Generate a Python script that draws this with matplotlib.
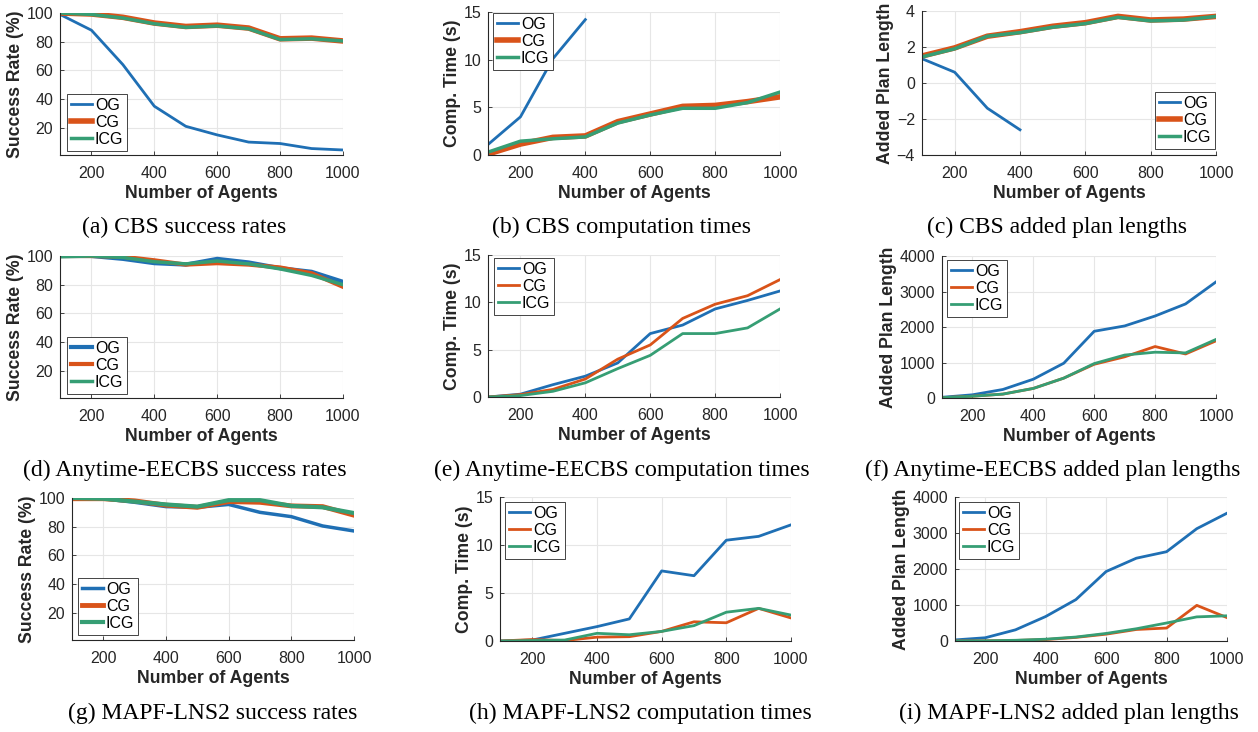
import matplotlib.pyplot as plt
import numpy as np

# number of agents on every x axis
agents = [100, 200, 300, 400, 500, 600, 700, 800, 900, 1000]

# CBS
cbs_sr_og = [99, 88, 64, 35, 21, 15, 10, 9, 5.5, 4.5]
cbs_sr_cg = [100, 99.3, 97, 93, 90.6, 91.5, 89.5, 82, 82.5, 80.5]
cbs_sr_icg = [100, 99, 96.5, 92.5, 90, 91, 89, 81.5, 82, 80.5]
cbs_ct_og = [1.1, 4.0, 10.1, 14.2]
cbs_ct_cg = [0.1, 1.15, 1.85, 2.0, 3.5, 4.3, 5.1, 5.2, 5.6, 6.1]
cbs_ct_icg = [0.3, 1.45, 1.7, 1.9, 3.35, 4.2, 4.9, 4.9, 5.5, 6.6]
cbs_pl_og = [1.35, 0.6, -1.4, -2.6]
cbs_pl_cg = [1.5, 1.95, 2.6, 2.85, 3.15, 3.35, 3.7, 3.5, 3.55, 3.7]
cbs_pl_icg = [1.45, 1.9, 2.6, 2.8, 3.1, 3.3, 3.65, 3.45, 3.5, 3.7]

# Anytime-EECBS
ee_sr_og = [100, 100, 98, 95, 94, 98, 95.5, 91.5, 89, 82]
ee_sr_cg = [100, 100, 99.5, 97, 94, 95, 94, 92, 88, 78.5]
ee_sr_icg = [99.5, 100, 99, 96, 94.5, 96.5, 94.5, 91, 86.5, 80]
ee_ct_og = [0, 0.3, 1.3, 2.2, 3.6, 6.7, 7.6, 9.3, 10.2, 11.2]
ee_ct_cg = [0, 0.25, 0.8, 1.9, 4.0, 5.5, 8.3, 9.8, 10.7, 12.4]
ee_ct_icg = [0, 0.15, 0.6, 1.5, 3.0, 4.4, 6.7, 6.7, 7.3, 9.3]
ee_pl_og = [20, 90, 240, 530, 980, 1880, 2030, 2310, 2650, 3270]
ee_pl_cg = [10, 50, 110, 270, 560, 950, 1160, 1450, 1240, 1610]
ee_pl_icg = [10, 50, 110, 270, 560, 970, 1210, 1290, 1270, 1650]

# MAPF-LNS2
lns_sr_og = [100, 99.5, 97, 94, 93.5, 95.5, 90, 87, 80.5, 77]
lns_sr_cg = [99.5, 99.5, 98, 95, 93.5, 97.5, 97, 94.5, 94, 88]
lns_sr_icg = [100, 99.5, 97.5, 95.5, 94, 98.5, 98.5, 94.5, 93.5, 89.5]
lns_ct_og = [0, 0.1, 0.8, 1.5, 2.3, 7.3, 6.8, 10.5, 10.9, 12.1]
lns_ct_cg = [0, 0.15, 0.05, 0.4, 0.45, 1.0, 2.0, 1.9, 3.4, 2.4]
lns_ct_icg = [0, 0.05, 0.1, 0.8, 0.65, 1.0, 1.6, 3.0, 3.4, 2.7]
lns_pl_og = [30, 90, 310, 680, 1150, 1930, 2300, 2480, 3120, 3550]
lns_pl_cg = [0, 5, 15, 40, 100, 190, 320, 360, 990, 650]
lns_pl_icg = [0, 5, 20, 50, 110, 210, 340, 500, 670, 700]

captions = ['(a) CBS success rates', '(b) CBS computation times', '(c) CBS added plan lengths',
            '(d) Anytime-EECBS success rates', '(e) Anytime-EECBS computation times',
            '(f) Anytime-EECBS added plan lengths',
            '(g) MAPF-LNS2 success rates', '(h) MAPF-LNS2 computation times',
            '(i) MAPF-LNS2 added plan lengths']

BLUE = '#1f6fb4'
ORANGE = '#d95319'
GREEN = '#369e74'
W, H = 1258, 732

fig = plt.figure(figsize=(W / 100, H / 100), dpi=100)
plt.rcParams['font.family'] = ['Liberation Sans', 'DejaVu Sans']


def panel(box, og, cg, icg, ylim, yticks, ylabel, leg_xy, widths=(2, 2, 2), caption=None, cap_xy=None):
    x0, x1, y0, y1 = box
    ax = fig.add_axes([x0 / W, 1 - y1 / H, (x1 - x0) / W, (y1 - y0) / H])
    lw_og, lw_cg, lw_icg = widths
    ax.plot(agents[:len(og)], og, color=BLUE, lw=lw_og, label='OG')
    ax.plot(agents[:len(cg)], cg, color=ORANGE, lw=lw_cg, label='CG')
    ax.plot(agents[:len(icg)], icg, color=GREEN, lw=lw_icg, label='ICG')
    ax.set_xlim(100, 1000)
    ax.set_ylim(*ylim)
    ax.set_xticks([200, 400, 600, 800, 1000])
    ax.set_yticks(yticks)
    ax.grid(True, color='#e6e6e6', lw=0.8)
    ax.set_axisbelow(True)
    for s in ['top', 'right']:
        ax.spines[s].set_visible(False)
    for s in ['left', 'bottom']:
        ax.spines[s].set_color('#262626')
        ax.spines[s].set_linewidth(0.8)
    ax.tick_params(direction='in', length=3, width=0.6, labelsize=11.5, colors='#262626')
    ax.tick_params(axis='x', pad=8)
    ax.tick_params(axis='y', pad=5)
    ax.set_xlabel('Number of Agents', fontsize=12.7, fontweight='bold', color='#262626', labelpad=3)
    ax.set_ylabel(ylabel, fontsize=12.7, fontweight='bold', color='#262626', labelpad=2)
    ax.legend(loc='upper left', bbox_to_anchor=(leg_xy[0] / W, 1 - leg_xy[1] / H),
              bbox_transform=fig.transFigure, borderaxespad=0, fancybox=False,
              edgecolor='#262626', framealpha=1, fontsize=11.5, handlelength=1.3,
              handletextpad=0.2, labelspacing=0.12, borderpad=0.25)
    ax.get_legend().get_frame().set_linewidth(0.6)
    fig.text(cap_xy[0] / W, 1 - cap_xy[1] / H, caption, ha='center', va='center',
             fontsize=17, family='Liberation Serif')
    return ax


sr_ticks = [20, 40, 60, 80, 100]
ct_ticks = [0, 5, 10, 15]
pl_ticks = [0, 1000, 2000, 3000, 4000]

panel((60, 343, 13, 155), cbs_sr_og, cbs_sr_cg, cbs_sr_icg, (1, 100), sr_ticks,
      'Success Rate (%)', (67, 94), (2, 4, 2.5), captions[0], (184, 227))
panel((488, 780, 12, 155), cbs_ct_og, cbs_ct_cg, cbs_ct_icg, (0, 15), ct_ticks,
      'Comp. Time (s)', (493, 13), (2, 4, 2.5), captions[1], (622, 227))
panel((922, 1216, 11, 155), cbs_pl_og, cbs_pl_cg, cbs_pl_icg, (-4, 4), [-4, -2, 0, 2, 4],
      'Added Plan Length', (1155, 92), (2, 4, 2.5), captions[2], (1057, 227))

panel((60, 343, 256, 398), ee_sr_og, ee_sr_cg, ee_sr_icg, (1, 100), sr_ticks,
      'Success Rate (%)', (67, 337), (3, 3, 2.5), captions[3], (185, 470))
panel((488, 780, 255, 397), ee_ct_og, ee_ct_cg, ee_ct_icg, (0, 15), ct_ticks,
      'Comp. Time (s)', (494, 258), (2, 2, 2), captions[4], (622, 470))
panel((942, 1216, 256, 398), ee_pl_og, ee_pl_cg, ee_pl_icg, (0, 4000), pl_ticks,
      'Added Plan Length', (947, 260), (2, 2, 2), captions[5], (1053, 470))

panel((72, 354, 498, 640), lns_sr_og, lns_sr_cg, lns_sr_icg, (1, 100), sr_ticks,
      'Success Rate (%)', (78, 578), (2.5, 3.5, 3), captions[6], (213, 713))
panel((500, 791, 497, 641), lns_ct_og, lns_ct_cg, lns_ct_icg, (0, 15), ct_ticks,
      'Comp. Time (s)', (505, 502), (2, 2, 2), captions[7], (640, 713))
panel((955, 1227, 497, 641), lns_pl_og, lns_pl_cg, lns_pl_icg, (0, 4000), pl_ticks,
      'Added Plan Length', (959, 502), (2, 2, 2), captions[8], (1069, 713))

fig.savefig('out.png', dpi=100)
